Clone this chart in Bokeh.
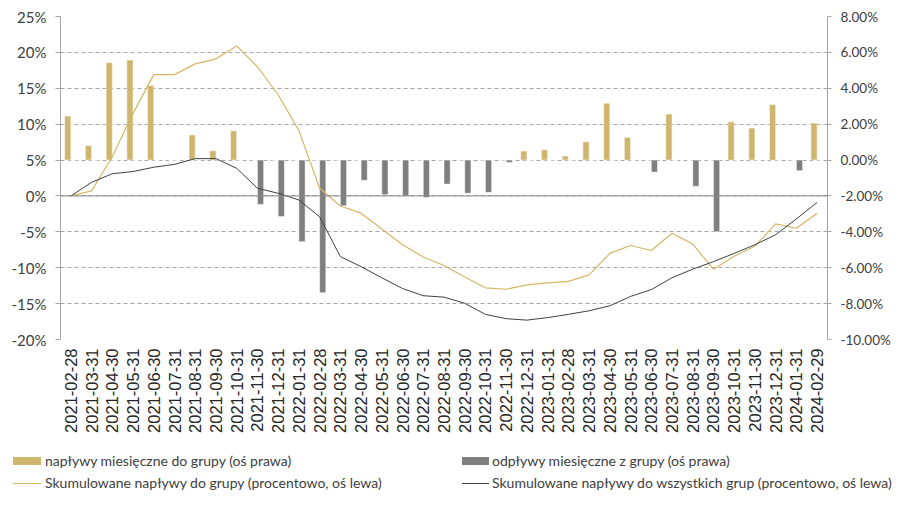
from bokeh.plotting import figure
from bokeh.models import (Range1d, FactorRange, LinearAxis, FixedTicker, PrintfTickFormatter,
                          ColumnDataSource, Span, Label, Div)
from bokeh.layouts import column
from bokeh.transform import dodge
from bokeh.embed import file_html
from bokeh.resources import INLINE
import math

title_text = "Fundusze akcji polskich małych i średnich spółek – saldo napływów – 3 lata"

dates = ["2021-02-28", "2021-03-31", "2021-04-30", "2021-05-31", "2021-06-30", "2021-07-31",
         "2021-08-31", "2021-09-30", "2021-10-31", "2021-11-30", "2021-12-31", "2022-01-31",
         "2022-02-28", "2022-03-31", "2022-04-30", "2022-05-31", "2022-06-30", "2022-07-31",
         "2022-08-31", "2022-09-30", "2022-10-31", "2022-11-30", "2022-12-31", "2023-01-31",
         "2023-02-28", "2023-03-31", "2023-04-30", "2023-05-31", "2023-06-30", "2023-07-31",
         "2023-08-31", "2023-09-30", "2023-10-31", "2023-11-30", "2023-12-31", "2024-01-31",
         "2024-02-29"]

# monthly inflows to the group (right axis, %)
inflows = [2.45, 0.80, 5.43, 5.58, 4.15, 0.0, 1.40, 0.52, 1.63, 0.0, 0.0, 0.0,
           0.0, 0.0, 0.0, 0.0, 0.0, 0.0, 0.0, 0.0, 0.0, 0.0, 0.50, 0.57,
           0.22, 1.02, 3.17, 1.26, 0.0, 2.57, 0.0, 0.0, 2.13, 1.78, 3.09, 0.0,
           2.06]

# monthly outflows from the group (right axis, %)
outflows = [0.0, 0.0, 0.0, 0.0, 0.0, 0.0, 0.0, 0.0, 0.0, -2.47, -3.15, -4.55,
            -7.39, -2.55, -1.13, -1.93, -2.01, -2.09, -1.34, -1.85, -1.80, -0.13, 0.0, 0.0,
            0.0, 0.0, 0.0, 0.0, -0.67, 0.0, -1.46, -4.00, 0.0, 0.0, 0.0, -0.59,
            0.0]

# cumulative flows to the group (left axis, %)
cum_group = [0.0, 0.7, 5.5, 11.5, 16.9, 16.9, 18.4, 19.1, 20.9, 18.0, 14.1, 9.1,
             1.1, -1.4, -2.4, -4.6, -6.8, -8.5, -9.7, -11.3, -12.8, -13.0, -12.4, -12.1,
             -11.9, -11.0, -8.0, -6.9, -7.6, -5.2, -6.7, -10.2, -8.4, -7.0, -3.9, -4.5,
             -2.4]

# cumulative flows to all groups (left axis, %)
cum_all = [0.0, 1.9, 3.1, 3.4, 4.0, 4.4, 5.2, 5.2, 3.85, 1.07, 0.37, -0.56,
           -2.9, -8.45, -9.85, -11.4, -12.9, -13.9, -14.1, -14.95, -16.5, -17.1, -17.3, -16.95,
           -16.5, -16.0, -15.3, -14.0, -13.05, -11.4, -10.2, -9.15, -8.0, -6.8, -5.4, -3.2,
           -0.9]

left_ticks = [-20, -15, -10, -5, 0, 5, 10, 15, 20, 25]
right_ticks = [-10, -8, -6, -4, -2, 0, 2, 4, 6, 8]

legend_labels = ["napływy miesięczne do grupy (oś prawa)",
                 "odpływy miesięczne z grupy (oś prawa)",
                 "Skumulowane napływy do grupy (procentowo, oś lewa)",
                 "Skumulowane napływy do wszystkich grup (procentowo, oś lewa)"]

GOLD = "#CFB66E"
GRAY = "#7F7F7F"
DARK = "#404040"
GRID = "#A6A6A6"
GOLD_LINE = "#D4B766"

src = ColumnDataSource(dict(date=dates, inflow=inflows, outflow=outflows,
                            cg=cum_group, ca=cum_all))

p = figure(width=893, height=440, output_backend="svg", toolbar_location=None,
           x_range=FactorRange(*dates, range_padding=0),
           y_range=Range1d(left_ticks[0], left_ticks[-1]),
           min_border_left=60, min_border_right=63, min_border_top=16, min_border_bottom=101,
           title=None)
p.outline_line_color = None
p.extra_y_ranges = {"right": Range1d(right_ticks[0], right_ticks[-1])}

# grid
p.xgrid.grid_line_color = None
p.ygrid.ticker = FixedTicker(ticks=left_ticks)
p.ygrid.grid_line_color = GRID
p.ygrid.grid_line_dash = "4 3"
p.ygrid.grid_line_width = 1

# left axis
la = p.yaxis[0]
la.ticker = FixedTicker(ticks=left_ticks)
la.formatter = PrintfTickFormatter(format="%d%%")
la.axis_line_color = GRID
la.major_tick_line_color = GRID
la.major_tick_out = 5
la.major_tick_in = 0
la.minor_tick_line_color = None
la.major_label_standoff = 9
la.major_label_text_font = "Lato"
la.major_label_text_font_size = "15px"
la.major_label_text_color = DARK

# right axis
ra = LinearAxis(y_range_name="right", ticker=FixedTicker(ticks=right_ticks),
                formatter=PrintfTickFormatter(format="%.2f%%"))
ra.axis_line_color = GRID
ra.major_tick_line_color = GRID
ra.major_tick_out = 4
ra.major_tick_in = 0
ra.minor_tick_line_color = None
ra.major_label_standoff = 9
ra.major_label_text_font = "Lato"
ra.major_label_text_font_size = "13.5px"
ra.major_label_text_color = DARK
p.add_layout(ra, "right")

# x axis
xa = p.xaxis[0]
xa.axis_line_color = None
xa.major_tick_line_color = None
xa.major_tick_out = 0
xa.major_tick_in = 0
xa.major_label_orientation = math.pi / 2
xa.major_label_standoff = 9
xa.major_label_text_font = "Liberation Sans"
xa.major_label_text_font_size = "16.5px"
xa.major_label_text_color = "#262626"

# zero line
p.add_layout(Span(location=0, dimension="width", line_color="#8C8C8C", line_width=1))

# bars
p.vbar(x=dodge("date", -0.15, range=p.x_range), top="inflow", bottom=0, width=0.3,
       source=src, y_range_name="right", fill_color=GOLD, line_color="white", line_width=0.5)
p.vbar(x=dodge("date", 0.15, range=p.x_range), top="outflow", bottom=0, width=0.3,
       source=src, y_range_name="right", fill_color=GRAY, line_color="white", line_width=0.5)

# lines
p.line(x="date", y="cg", source=src, line_color=GOLD_LINE, line_width=1.2)
p.line(x="date", y="ca", source=src, line_color=DARK, line_width=1)

# title (cut off at the top, as in the reference)
p.add_layout(Label(x=21.4, y=left_ticks[-1] + 1.45, text=title_text,
                   text_align="center", text_baseline="alphabetic",
                   text_font="Liberation Sans Narrow, Liberation Sans", text_font_size="16.5px",
                   text_color=DARK))

# legend (HTML strip below the chart)
def swatch(left, top, w, h, color):
    return (f'<div style="position:absolute;left:{left}px;top:{top}px;width:{w}px;'
            f'height:{h}px;background:{color};"></div>')

def label(left, top, text):
    return (f'<div style="position:absolute;left:{left}px;top:{top}px;line-height:16px;'
            f'white-space:nowrap;">{text}</div>')

legend_html = (
    f'<div style="position:relative;width:893px;height:50px;font-family:Lato;'
    f'font-size:14px;color:{DARK};">'
    + swatch(13, 17, 28, 8, GOLD) + label(45, 13, legend_labels[0])
    + swatch(462, 17, 27, 8, GRAY) + label(492, 13, legend_labels[1])
    + swatch(13, 43, 28, 1, GOLD_LINE) + label(45, 35, legend_labels[2])
    + swatch(462, 43, 27, 1, DARK) + label(492, 35, legend_labels[3])
    + '</div>'
)
legend_div = Div(text=legend_html, width=893, height=50, margin=0)

layout = column(p, legend_div, spacing=0)

open("out.html", "w").write(file_html(layout, INLINE))
